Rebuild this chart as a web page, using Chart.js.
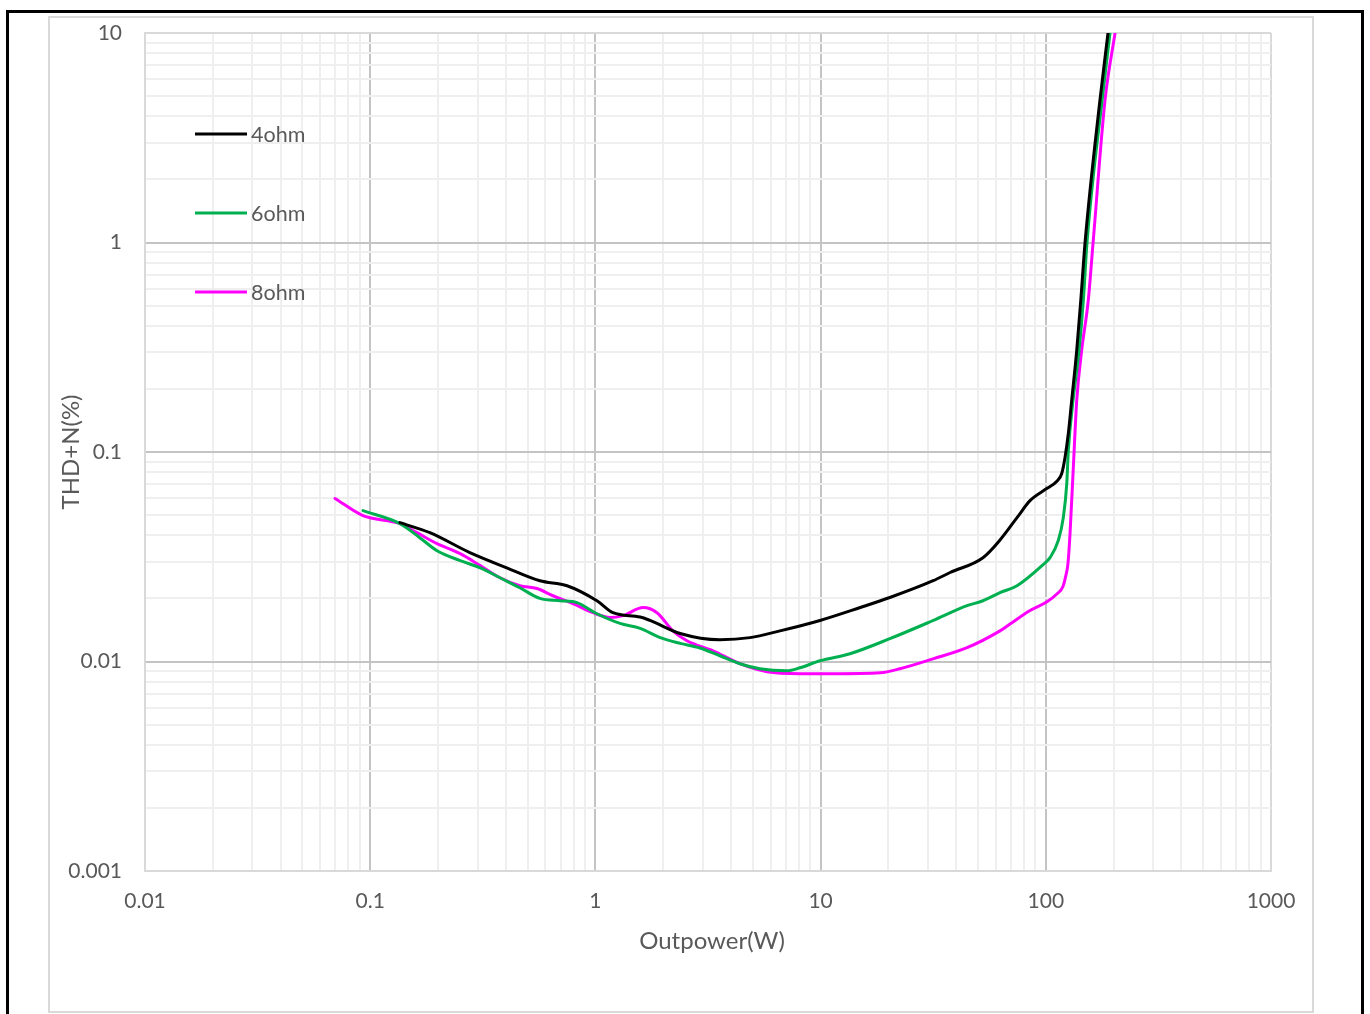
<!DOCTYPE html>
<html>
<head>
<meta charset="utf-8">
<script src="https://cdn.jsdelivr.net/npm/chart.js@4.4.1/dist/chart.umd.min.js"></script>
<style>
  html, body { margin: 0; padding: 0; background: #ffffff; overflow: hidden; width: 1370px; height: 1014px; }
  #outer { position: absolute; left: 6px; top: 10px; width: 1358px; height: 1100px; border: 3px solid #000; box-sizing: border-box; }
  #inner { position: absolute; left: 48px; top: 16px; width: 1266px; height: 997px; border: 2px solid #d9d9d9; box-sizing: border-box; }
  #c { position: absolute; left: 0; top: 0; }
</style>
</head>
<body>
<div id="outer"></div>
<div id="inner"></div>
<canvas id="c" width="1370" height="1014"></canvas>
<script>
// ---- data ----
const seriesNames = ['4ohm', '6ohm', '8ohm'];

const power4 = [0.1356, 0.184, 0.277, 0.404, 0.567, 0.748, 1.016, 1.197, 1.58, 1.748, 2.38, 3.57, 4.86, 6.6, 9.94, 15.0, 20.3, 31.6, 37.6, 52.6, 62.6, 74.5, 85.1, 100.9, 112, 117.7, 121.7, 125.9, 130.3, 137.2, 143, 149.4, 174, 188.9];
const thd4   = [0.046, 0.0412, 0.0331, 0.028, 0.0243, 0.023, 0.0195, 0.0171, 0.0163, 0.0157, 0.0136, 0.0127, 0.013, 0.014, 0.0157, 0.0181, 0.0202, 0.0243, 0.0266, 0.0313, 0.038, 0.0486, 0.0586, 0.0669, 0.0725, 0.0789, 0.0941, 0.1226, 0.1762, 0.3055, 0.53, 1.0, 4.79, 10];

const power6 = [0.0929, 0.1356, 0.166, 0.198, 0.251, 0.308, 0.377, 0.462, 0.567, 0.697, 0.828, 1.016, 1.286, 1.58, 1.94, 2.38, 2.91, 3.57, 4.38, 5.38, 7.09, 8.1, 9.94, 13.5, 20.3, 31.5, 44.7, 52.6, 62.6, 74.5, 97.3, 104.4, 113.6, 119.6, 123.9, 125.9, 132.1, 140.5, 146.8, 152.4, 177.8, 192.8];
const thd6   = [0.0525, 0.0455, 0.039, 0.0338, 0.0303, 0.028, 0.0251, 0.0225, 0.02, 0.0195, 0.0191, 0.0169, 0.0152, 0.0144, 0.013, 0.0122, 0.0116, 0.01065, 0.00976, 0.00923, 0.00903, 0.00933, 0.01008, 0.01089, 0.01285, 0.01567, 0.01847, 0.0195, 0.0213, 0.023, 0.029, 0.0313, 0.0378, 0.0486, 0.0707, 0.1017, 0.1762, 0.3055, 0.53, 1.0, 4.79, 10];

const power8 = [0.0698, 0.0929, 0.1356, 0.1614, 0.198, 0.251, 0.308, 0.377, 0.462, 0.55, 0.648, 0.795, 0.976, 1.161, 1.326, 1.627, 1.877, 2.21, 2.55, 3.33, 4.38, 5.78, 8.1, 11.35, 18.4, 22.5, 31.6, 44.7, 62.6, 69.4, 85.1, 101.2, 112, 119.2, 122.5, 125.5, 128.1, 132.5, 137.2, 144.3, 154.4, 162.2, 183.2, 203];
const thd8   = [0.06, 0.0497, 0.0455, 0.0412, 0.0365, 0.0327, 0.0287, 0.0251, 0.023, 0.0223, 0.0206, 0.0189, 0.0171, 0.0162, 0.01655, 0.0181, 0.0171, 0.014, 0.01256, 0.01125, 0.00976, 0.00893, 0.00874, 0.00874, 0.00883, 0.00923, 0.0103, 0.01164, 0.014, 0.0151, 0.0175, 0.0193, 0.021, 0.0228, 0.0255, 0.0295, 0.0408, 0.0843, 0.1762, 0.3055, 0.53, 1.0, 4.78, 10];

const xTickLabels = ['0.01', '0.1', '1', '10', '100', '1000'];
const yTickLabels = ['0.001', '0.01', '0.1', '1', '10'];
const xTitle = 'Outpower(W)';
const yTitle = 'THD+N(%)';

// ---- chart ----
const FONT = 'Lato, "Open Sans", sans-serif';
const TEXT = '#595959';
const colors = ['#000000', '#00b050', '#ff00ff'];

function pairs(xs, ys) { return xs.map((x, i) => ({ x: x, y: ys[i] })); }
function isDecade(v) { const l = Math.log10(v); return Math.abs(l - Math.round(l)) < 1e-9; }
function logTicks(minExp, maxExp) {
  const t = [];
  for (let e = minExp; e < maxExp; e++) for (let d = 1; d <= 9; d++) t.push({ value: +(d * Math.pow(10, e)).toPrecision(6) });
  t.push({ value: Math.pow(10, maxExp) });
  return t;
}
function gridColor(ctx, scale) {
  const v = ctx.tick ? ctx.tick.value : null;
  if (v == null) return '#eeeeee';
  if (Math.abs(v - scale.min) < 1e-12 || Math.abs(v - scale.max) < 1e-9) return '#d9d9d9';
  return isDecade(v) ? '#c4c4c4' : '#efefef';
}

const overlay = {
  id: 'overlay',
  afterDatasetsDraw(chart) {
    const c = chart.ctx;
    const area = chart.chartArea;
    c.save();
    // legend inside the plot
    const lx0 = area.left + 50, lx1 = area.left + 102, ty0 = area.top + 101, step = 79;
    chart.data.datasets.forEach((ds, i) => {
      const y = ty0 + i * step;
      c.strokeStyle = ds.borderColor; c.lineWidth = 3; c.lineCap = 'butt';
      c.beginPath(); c.moveTo(lx0, y); c.lineTo(lx1, y); c.stroke();
      c.fillStyle = TEXT; c.font = '21.5px ' + FONT; c.textAlign = 'left'; c.textBaseline = 'middle';
      c.fillText(ds.label, lx1 + 4, y + 1);
    });
    // axis titles
    c.fillStyle = TEXT; c.font = '24px ' + FONT; c.textAlign = 'center'; c.textBaseline = 'middle';
    c.fillText(xTitle, (area.left + area.right) / 2 + 4, area.bottom + 70);
    c.translate(71, (area.top + area.bottom) / 2);
    c.rotate(-Math.PI / 2);
    c.fillText(yTitle, 0, 0);
    c.restore();
  }
};

const datasets = [pairs(power4, thd4), pairs(power6, thd6), pairs(power8, thd8)].map((d, i) => ({
  label: seriesNames[i],
  data: d,
  borderColor: colors[i],
  backgroundColor: colors[i],
  borderWidth: 3,
  pointRadius: 0,
  fill: false,
  cubicInterpolationMode: 'monotone'
}));

new Chart(document.getElementById('c'), {
  type: 'line',
  data: { datasets: datasets },
  options: {
    responsive: false,
    animation: false,
    devicePixelRatio: 1,
    layout: { padding: { left: 0, right: 99, top: 33, bottom: 0 } },
    plugins: { legend: { display: false }, tooltip: { enabled: false }, title: { display: false } },
    elements: { line: { borderCapStyle: 'round', borderJoinStyle: 'round' } },
    scales: {
      x: {
        type: 'logarithmic', min: 0.01, max: 1000, position: 'bottom',
        afterBuildTicks: s => { s.ticks = logTicks(-2, 3); },
        afterFit: s => { s.height = 143; s.paddingLeft = 0; s.paddingRight = 0; },
        grid: { color: ctx => gridColor(ctx, ctx.chart.scales.x), lineWidth: 2, drawTicks: false },
        border: { display: true, color: '#d9d9d9', width: 2 },
        ticks: {
          autoSkip: false, maxRotation: 0, padding: 18, color: TEXT, font: { family: FONT, size: 21 },
          callback: v => isDecade(v) ? xTickLabels[Math.round(Math.log10(v)) + 2] : ''
        }
      },
      y: {
        type: 'logarithmic', min: 0.001, max: 10, position: 'left',
        afterBuildTicks: s => { s.ticks = logTicks(-3, 1); },
        afterFit: s => { s.width = 145; s.paddingTop = 0; s.paddingBottom = 0; },
        grid: { color: ctx => gridColor(ctx, ctx.chart.scales.y), lineWidth: 2, drawTicks: false },
        border: { display: true, color: '#d9d9d9', width: 2 },
        ticks: {
          autoSkip: false, padding: 23, color: TEXT, font: { family: FONT, size: 21 },
          callback: v => isDecade(v) ? yTickLabels[Math.round(Math.log10(v)) + 3] : ''
        }
      }
    }
  },
  plugins: [overlay]
});
</script>
</body>
</html>
